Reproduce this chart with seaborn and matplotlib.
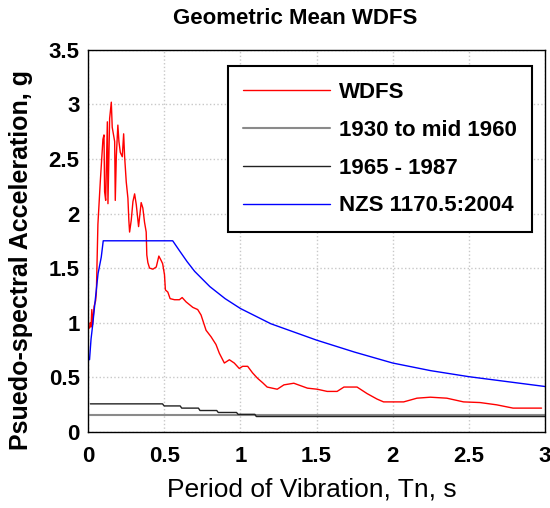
import matplotlib
matplotlib.use('Agg')

import matplotlib.pyplot as plt
import seaborn as sns
from matplotlib.ticker import FormatStrFormatter

# WDFS geometric mean spectrum
wdfs_t = [0.01, 0.015, 0.02, 0.025, 0.03, 0.04, 0.05, 0.055, 0.065, 0.081,
          0.098, 0.105, 0.109, 0.116, 0.127, 0.131, 0.142, 0.153, 0.159, 0.175,
          0.179, 0.186, 0.196, 0.203, 0.212, 0.225, 0.234, 0.24, 0.251, 0.262,
          0.268, 0.273, 0.284, 0.295, 0.306, 0.317, 0.332, 0.349, 0.36, 0.371,
          0.382, 0.386, 0.393, 0.404, 0.426, 0.448, 0.465, 0.48, 0.49, 0.502,
          0.508, 0.524, 0.539, 0.568, 0.6, 0.618, 0.644, 0.688, 0.72, 0.742,
          0.775, 0.808, 0.84, 0.862, 0.895, 0.928, 0.96, 0.993, 1.015, 1.048,
          1.08, 1.113, 1.146, 1.176, 1.242, 1.286, 1.351, 1.44, 1.505, 1.57,
          1.635, 1.68, 1.766, 1.832, 1.897, 1.94, 2.072, 2.159, 2.247, 2.355,
          2.465, 2.573, 2.683, 2.79, 2.977]
wdfs_sa = [0.95, 1.0, 0.96, 1.12, 0.98, 1.15, 1.2, 1.28, 1.9, 2.3,
           2.68, 2.72, 2.2, 2.12, 2.84, 2.09, 2.87, 3.02, 2.79, 2.66,
           2.12, 2.53, 2.81, 2.66, 2.56, 2.52, 2.73, 2.53, 2.29, 2.14,
           1.94, 1.83, 1.94, 2.11, 2.18, 2.08, 1.88, 2.1, 2.05, 1.92,
           1.83, 1.62, 1.55, 1.5, 1.49, 1.51, 1.61, 1.57, 1.54, 1.44,
           1.3, 1.28, 1.22, 1.21, 1.21, 1.23, 1.19, 1.14, 1.12, 1.07,
           0.93, 0.87, 0.8, 0.72, 0.63, 0.66, 0.63, 0.58, 0.6, 0.6,
           0.54, 0.49, 0.45, 0.41, 0.39, 0.43, 0.445, 0.40, 0.39, 0.37,
           0.37, 0.41, 0.41, 0.35, 0.30, 0.274, 0.274, 0.308, 0.317, 0.308,
           0.274, 0.268, 0.247, 0.217, 0.217]

# old codes
old_t = [0.015, 3.0]
old_sa = [0.155, 0.155]

mid_t = [0.015, 0.489, 0.5, 0.605, 0.615, 0.725, 0.735, 0.845, 0.855, 0.975,
         0.985, 1.095, 1.105, 3.0]
mid_sa = [0.256, 0.256, 0.237, 0.237, 0.217, 0.217, 0.195, 0.195, 0.177, 0.177,
          0.16, 0.16, 0.14, 0.14]

# NZS 1170.5 design spectrum
nzs_t = [0.01, 0.02, 0.03, 0.05, 0.066, 0.087, 0.1, 0.556, 0.6, 0.65, 0.7,
         0.75, 0.8, 0.9, 1.0, 1.1, 1.2, 1.3, 1.4, 1.5, 1.75, 2.0, 2.25, 2.5,
         2.75, 3.0]
nzs_sa = [0.66, 0.85, 0.97, 1.24, 1.45, 1.6, 1.75, 1.75, 1.66, 1.56, 1.47,
          1.40, 1.33, 1.22, 1.13, 1.06, 0.99, 0.94, 0.89, 0.84, 0.73, 0.63,
          0.56, 0.505, 0.46, 0.415]

sns.set_theme(style="whitegrid")
plt.rcParams['font.family'] = ['Liberation Sans', 'DejaVu Sans']
plt.rcParams['text.color'] = 'black'
plt.rcParams['axes.labelcolor'] = 'black'
plt.rcParams['xtick.color'] = 'black'
plt.rcParams['ytick.color'] = 'black'

fig = plt.figure(figsize=(5.5, 5.08), dpi=100)
ax = fig.add_axes([0.16, 0.15, 0.831, 0.752])

sns.lineplot(x=wdfs_t, y=wdfs_sa, color="#ff0000", lw=1, label="WDFS", ax=ax,
             sort=False)
sns.lineplot(x=old_t, y=old_sa, color="#8a8a8a", lw=1.5, label="1930 to mid 1960",
             ax=ax, sort=False)
sns.lineplot(x=mid_t, y=mid_sa, color="#222222", lw=1, label="1965 - 1987",
             ax=ax, sort=False)
sns.lineplot(x=nzs_t, y=nzs_sa, color="#0000ff", lw=1, label="NZS 1170.5:2004",
             ax=ax, sort=False)

ax.set_xlim(0, 3)
ax.set_ylim(0, 3.5)
ax.set_xticks([0, 0.5, 1, 1.5, 2, 2.5, 3])
ax.set_yticks([0, 0.5, 1, 1.5, 2, 2.5, 3, 3.5])
ax.xaxis.set_major_formatter(FormatStrFormatter('%g'))
ax.yaxis.set_major_formatter(FormatStrFormatter('%g'))
ax.tick_params(direction='in', length=4, width=1, colors='black', labelsize=16)
ax.tick_params(axis='x', pad=10)
ax.tick_params(axis='y', pad=6)
for lab in ax.get_xticklabels() + ax.get_yticklabels():
    lab.set_fontweight('bold')

ax.grid(True, color='#c8c8c8', linestyle=':', linewidth=1)
for s in ax.spines.values():
    s.set_color('black')
    s.set_linewidth(1)

fig.text(295 / 550, 1 - 18 / 508, "Geometric Mean WDFS", fontsize=16,
         fontweight='bold', ha='center', va='center', color='black')
ax.set_xlabel("Period of Vibration, Tn, s", fontsize=19, color='black')
ax.xaxis.set_label_coords((312 - 88) / 457, -(478 - 432) / 382.3)
ax.set_ylabel("Psuedo-spectral Acceleration, g", fontsize=18, fontweight='bold',
              color='black')
ax.yaxis.set_label_coords(-(88 - 33) / 457, (432 - 260) / 382.3)

leg = ax.legend(loc='upper right', bbox_to_anchor=(0.9716, 0.957),
                borderaxespad=0, fancybox=False, framealpha=1,
                edgecolor='black', handlelength=3.9, handletextpad=0.4,
                labelspacing=0.76, borderpad=0.7,
                prop={'weight': 'bold', 'size': 16})
leg.get_frame().set_linewidth(1.5)
for t in leg.get_texts():
    t.set_color('black')

fig.savefig("out.png", dpi=100)
